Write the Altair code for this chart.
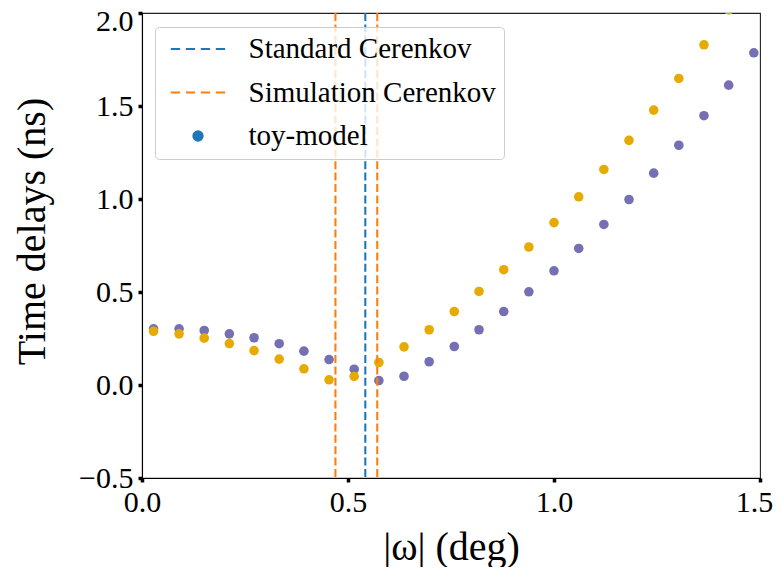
import altair as alt
import pandas as pd

# |omega| bin positions (deg)
omega = [0.028, 0.090, 0.151, 0.212, 0.272, 0.333, 0.393, 0.454, 0.515, 0.575,
         0.636, 0.697, 0.758, 0.818, 0.878, 0.939, 1.000, 1.060, 1.121, 1.182,
         1.242, 1.303, 1.364, 1.424, 1.485]
# time delays (ns), two toy-model series
delay_purple = [0.302, 0.302, 0.293, 0.275, 0.254, 0.222, 0.182, 0.137, 0.085, 0.024,
                0.047, 0.125, 0.207, 0.297, 0.395, 0.501, 0.614, 0.734, 0.863, 0.997,
                1.139, 1.289, 1.448, 1.612, 1.786]
delay_yellow = [0.289, 0.275, 0.252, 0.223, 0.185, 0.139, 0.087, 0.028, 0.046, 0.121,
                0.205, 0.297, 0.395, 0.503, 0.620, 0.742, 0.873, 1.012, 1.159, 1.315,
                1.478, 1.648, 1.829, 2.017, 2.210]
series_colors = ["#7570b3", "#e6ab02"]

# Cerenkov angle lines
cerenkov_kind = ["Standard Cerenkov", "Simulation Cerenkov", "Simulation Cerenkov"]
cerenkov_angle = [0.542, 0.4695, 0.571]
cerenkov_color = ["#1f77b4", "#ff7f0e", "#ff7f0e"]

# legend entries
legend_labels = ["Standard Cerenkov", "Simulation Cerenkov", "toy-model"]
legend_colors = ["#1f77b4", "#ff7f0e", "#1f77b4"]
dash_path = "M-2.72,0H-1.79M-1.22,0H-0.29M0.28,0H1.21M1.78,0H2.71"
dot_path = "M-0.46,0A0.46,0.46,0,1,0,0.46,0A0.46,0.46,0,1,0,-0.46,0Z"
legend_shapes = [dash_path, dash_path, dot_path]

xs, ys, cs = [], [], []
for vals, col in ((delay_purple, series_colors[0]), (delay_yellow, series_colors[1])):
    xs += omega
    ys += vals
    cs += [col] * len(vals)
pts = pd.DataFrame({"omega": xs, "delay": ys, "col": cs})
lines = pd.DataFrame({"angle": cerenkov_angle, "kind": cerenkov_kind, "col": cerenkov_color})
leg = pd.DataFrame({"kind": legend_labels})

xscale = alt.Scale(domain=[0, 1.5], nice=False, zero=False)
yscale = alt.Scale(domain=[-0.5, 2.0], nice=False, zero=False)
color_scale = alt.Scale(domain=legend_labels, range=legend_colors)
shape_scale = alt.Scale(domain=legend_labels, range=legend_shapes)

xaxis = alt.Axis(title="|ω| (deg)", values=[0, 0.5, 1.0, 1.5], format=".1f",
                 titleX=309, titleY=69, titleBaseline="middle", titleAlign="center",
                 labelOffset={"condition": {"test": "datum.value >= 1.5", "value": -6}, "value": 0})
yaxis = alt.Axis(title="Time delays (ns)", values=[-0.5, 0, 0.5, 1.0, 1.5, 2.0], format=".1f",
                 titleX=-110, titleY=218, titleAngle=270, titleAlign="center",
                 titleBaseline="middle",
                 labelOffset={"condition": {"test": "datum.value >= 2", "value": 8}, "value": 0})

legend_kw = dict(title=None, orient="none", legendX=13, legendY=14,
                 labelFont="Liberation Serif", labelFontSize=29, labelColor="black",
                 labelLimit=400, symbolSize=400, symbolStrokeWidth=2.1, symbolOpacity=1,
                 fillColor="rgba(255,255,255,0.8)", strokeColor="#cccccc",
                 cornerRadius=4, padding=7.5, rowPadding=13.5,
                 symbolOffset=21, labelOffset=36)

legend_layer = alt.Chart(leg).mark_point(filled=True, opacity=0).encode(
    shape=alt.Shape("kind:N", scale=shape_scale, legend=alt.Legend(**legend_kw)),
    stroke=alt.Stroke("kind:N", scale=color_scale, legend=alt.Legend(**legend_kw)),
    fill=alt.Fill("kind:N", scale=color_scale, legend=alt.Legend(**legend_kw)),
)

points = alt.Chart(pts).mark_circle(size=92, opacity=1, clip=True).encode(
    x=alt.X("omega:Q", scale=xscale, axis=xaxis),
    y=alt.Y("delay:Q", scale=yscale, axis=yaxis),
    color=alt.Color("col:N", scale=None),
)

rules = alt.Chart(lines).mark_rule(strokeDash=[8, 3.4], strokeWidth=2.1, clip=True).encode(
    x=alt.X("angle:Q", scale=xscale),
    stroke=alt.Stroke("col:N", scale=None),
)

chart = alt.layer(legend_layer, points, rules).properties(
    width=618, height=465,
    padding={"left": 134, "top": 5, "right": 14, "bottom": 89},
    autosize="none",
).configure_view(
    stroke="#222222", strokeWidth=1.1
).configure_axis(
    grid=False, domainColor="black", domainWidth=1.1,
    tickColor="black", tickWidth=3.5, tickSize=4,
    labelFont="Liberation Serif", labelFontSize=30, labelColor="black",
    labelPadding=5, labelFlush=False, labelOverlap=False,
    titleFont="Liberation Serif", titleFontSize=40, titleFontWeight="normal",
    titleColor="black",
)

chart.save("out.html", embed_options={"renderer": "svg", "actions": False})
